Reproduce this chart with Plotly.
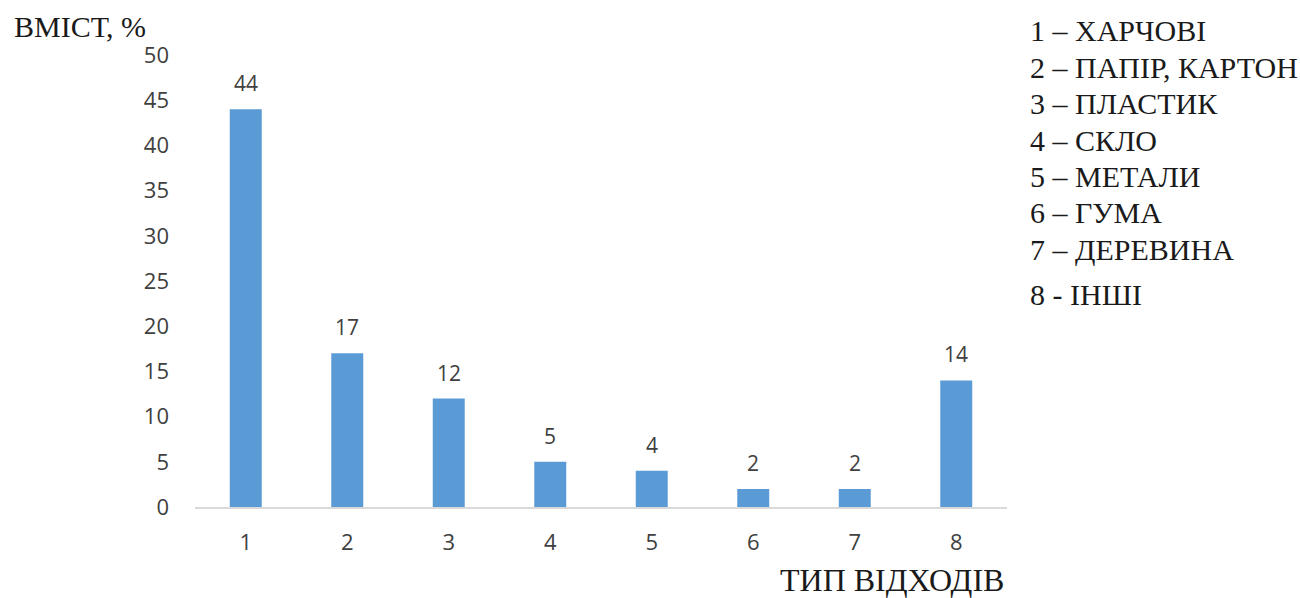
import plotly.graph_objects as go

categories = ["1", "2", "3", "4", "5", "6", "7", "8"]
values = [44, 17, 12, 5, 4, 2, 2, 14]
legend_lines = ["1 – ХАРЧОВІ", "2 – ПАПІР, КАРТОН", "3 – ПЛАСТИК", "4 – СКЛО",
                "5 – МЕТАЛИ", "6 – ГУМА", "7 – ДЕРЕВИНА", "8 - ІНШІ"]
y_title = "ВМІСТ, %"
x_title = "ТИП ВІДХОДІВ"
y_ticks = [0, 5, 10, 15, 20, 25, 30, 35, 40, 45, 50]

W, H = 1300, 598
L, R, T, B = 195, 293, 55, 91

sans = "Open Sans"
serif = "Liberation Serif"

fig = go.Figure()
fig.add_trace(go.Bar(
    x=categories, y=values,
    marker=dict(color="#5B9BD5", line=dict(width=0)),
    hoverinfo="skip",
))

annotations = []
for i, v in enumerate(values):
    annotations.append(dict(
        x=i, y=v, xref="x", yref="y", text=str(v), showarrow=False,
        yshift=26, font=dict(family=sans, size=21, color="#404040"),
    ))

px_ann = []
px_ann.append(dict(x=12, y=27, text=y_title, xanchor="left", size=30))
px_ann.append(dict(x=1006, y=580, text=x_title, xanchor="right", size=32))
legend_y = [30, 67, 103, 140, 176, 212, 249, 294]
for txt, yy in zip(legend_lines, legend_y):
    px_ann.append(dict(x=1028, y=yy, text=txt, xanchor="left", size=30))

for a in px_ann:
    annotations.append(dict(
        x=(a["x"] - L) / (W - L - R), y=((H - a["y"]) - B) / (H - T - B),
        xref="paper", yref="paper", text=a["text"], showarrow=False,
        xanchor=a["xanchor"], yanchor="middle",
        font=dict(family=serif, size=a["size"], color="#1a1a1a"),
    ))

fig.update_layout(
    width=W, height=H,
    margin=dict(l=L, r=R, t=T, b=B, pad=0),
    paper_bgcolor="white", plot_bgcolor="white",
    bargap=0.685,
    showlegend=False,
    annotations=annotations,
    xaxis=dict(
        type="category", range=[-0.5, 7.5],
        showgrid=False, zeroline=False,
        showline=True, linecolor="#d9d9d9", linewidth=1.5,
        ticks="", ticklabelstandoff=15,
        tickfont=dict(family=sans, size=22, color="#404040"),
    ),
    yaxis=dict(
        range=[0, 50], tickvals=y_ticks,
        showgrid=False, zeroline=False, showline=False,
        ticks="", ticklabelstandoff=25,
        tickfont=dict(family=sans, size=22, color="#404040"),
    ),
)

fig.write_html("out.html", config={"displayModeBar": False},
               post_script="document.body.style.margin='0';document.body.style.padding='0';")
